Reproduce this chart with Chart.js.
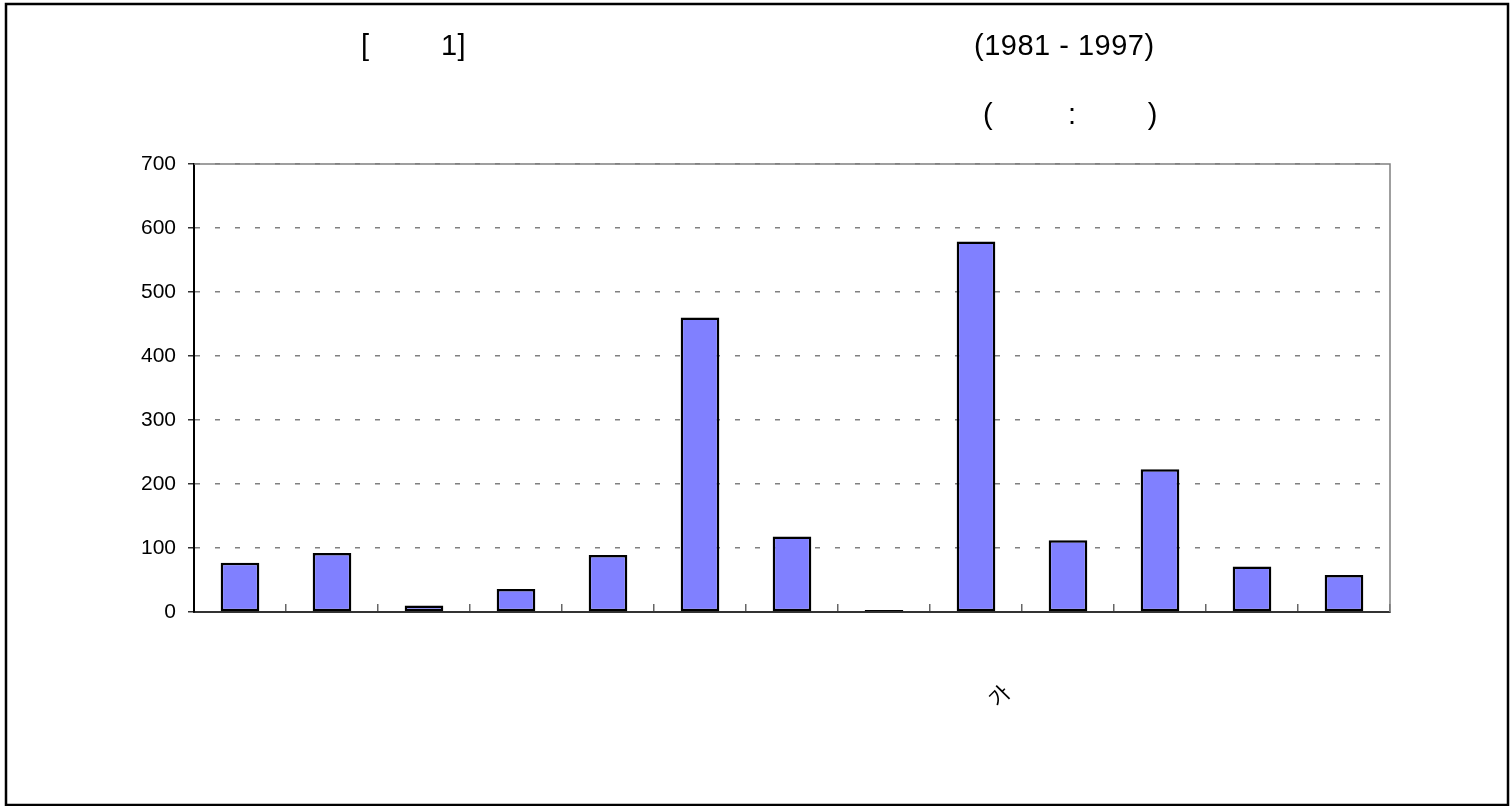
<!DOCTYPE html>
<html>
<head>
<meta charset="utf-8">
<script src="https://cdn.jsdelivr.net/npm/chart.js@4/dist/chart.umd.min.js"></script>
<style>
html,body{margin:0;padding:0;background:#fff;}
#wrap{width:1510px;height:806px;position:relative;}
</style>
</head>
<body>
<div id="wrap"><canvas id="c" width="1510" height="806"></canvas></div>
<script>
const categories = ["", "", "", "", "", "", "", "", "가", "", "", "", ""];
const values = [77, 92, 10, 36, 89, 460, 118, 3, 579, 112, 223, 71, 58];
const yTicks = [0, 100, 200, 300, 400, 500, 600, 700];
const titleLeft = "[        \u200A1]";
const titleRight = "(1981 - 1997)";
const unitText = "(        \u2009:        \u200A)";

const frame = {
  id: 'frame',
  beforeDatasetsDraw(chart) {
    const {ctx, chartArea: a} = chart;
    ctx.save();
    ctx.strokeStyle = '#808080';
    ctx.lineWidth = 1.5;
    ctx.beginPath();
    ctx.moveTo(a.left, a.top);
    ctx.lineTo(a.right, a.top);
    ctx.lineTo(a.right, a.bottom);
    ctx.stroke();
    ctx.restore();
  },
  afterDraw(chart) {
    const {ctx} = chart;
    ctx.save();
    ctx.strokeStyle = '#000';
    ctx.lineWidth = 2.5;
    ctx.strokeRect(6, 4, 1502, 801);
    ctx.fillStyle = '#000';
    ctx.font = '29px "Liberation Sans", Arial, sans-serif';
    if ('letterSpacing' in ctx) ctx.letterSpacing = '0.5px';
    ctx.textBaseline = 'middle';
    ctx.textAlign = 'left';
    ctx.fillText(titleLeft, 361, 47);
    ctx.fillText(titleRight, 974, 47);
    ctx.fillText(unitText, 983, 116);
    ctx.restore();
  }
};

new Chart(document.getElementById('c'), {
  type: 'bar',
  plugins: [frame],
  data: {
    labels: categories,
    datasets: [{
      data: values,
      backgroundColor: '#8080ff',
      borderColor: '#000',
      borderWidth: 2.5,
      borderSkipped: false,
      barPercentage: 0.42,
      categoryPercentage: 1.0
    }]
  },
  options: {
    responsive: false,
    animation: false,
    events: [],
    layout: {padding: {left: 0, right: 120, top: 164, bottom: 0}},
    plugins: {legend: {display: false}, tooltip: {enabled: false}, title: {display: false}},
    scales: {
      x: {
        offset: true,
        grid: {
          display: true,
          offset: true,
          drawOnChartArea: false,
          drawTicks: true,
          tickLength: -8,
          color: '#666',
          lineWidth: 1.5
        },
        border: {display: true, color: '#333', width: 2},
        ticks: {
          autoSkip: false,
          minRotation: 45,
          maxRotation: 45,
          padding: 76,
          labelOffset: 30,
          color: '#000',
          font: {family: '"Noto Sans CJK KR", sans-serif', size: 21}
        },
        afterFit(s) { s.height = 194; }
      },
      y: {
        min: 0,
        max: 700,
        afterBuildTicks(s) { s.ticks = yTicks.map(v => ({value: v})); },
        grid: {
          color: '#808080',
          lineWidth: 1.5,
          tickLength: 6,
          tickColor: '#333',
          drawTicks: true
        },
        border: {display: true, color: '#000', width: 2, dash: [5, 15]},
        ticks: {
          padding: 12,
          color: '#000',
          font: {family: '"Liberation Sans", Arial, sans-serif', size: 21}
        },
        afterFit(s) { s.width = 194; }
      }
    }
  }
});
</script>
</body>
</html>
